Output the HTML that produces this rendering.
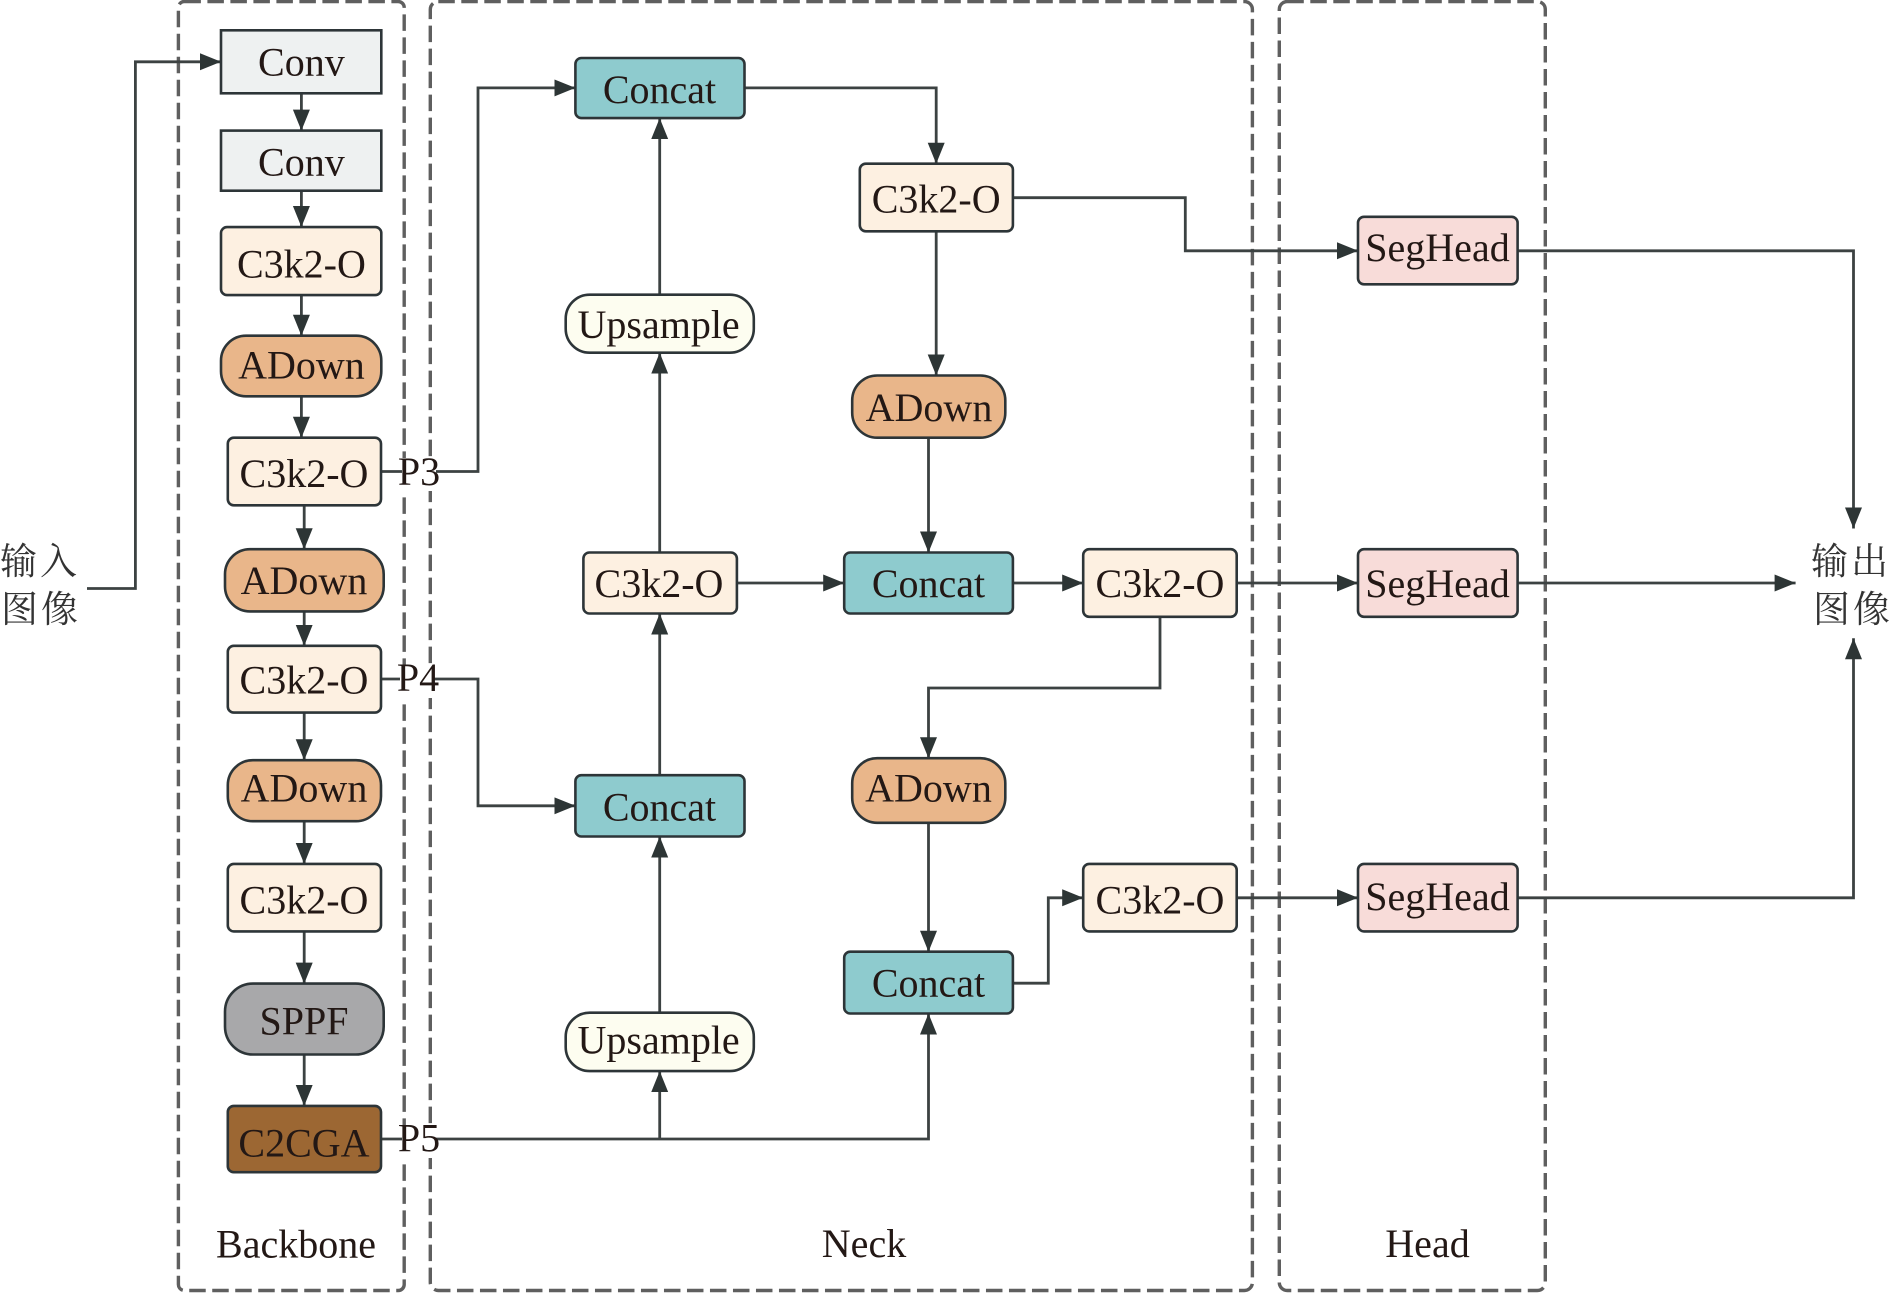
<!DOCTYPE html>
<html><head><meta charset="utf-8"><style>
html,body{margin:0;padding:0;background:#fff}
svg{display:block}
text{font-family:"Liberation Serif","Noto Serif CJK SC",serif;font-size:40px;fill:#231815;text-anchor:middle}
.g{fill:none;stroke:#5f5f5f;stroke-width:3.4;stroke-dasharray:16.5 6.5}
.l{fill:none;stroke:#3c4242;stroke-width:2.8;stroke-linejoin:miter}
.a{marker-end:url(#h)}
.n{stroke:#2d3538;stroke-width:2.6}
.cn{font-size:37px;fill:#333;text-anchor:start;letter-spacing:3px}
</style></head><body>
<svg width="1890" height="1295" viewBox="0 0 1890 1295" xmlns="http://www.w3.org/2000/svg">
<defs><marker id="h" markerUnits="userSpaceOnUse" markerWidth="22" markerHeight="18" refX="21" refY="9" orient="auto"><path d="M0 0.5L21 9L0 17.5Z" fill="#2d3535"/></marker></defs>
<rect width="1890" height="1295" fill="#fff"/>
<rect class="g" x="178.4" y="1.5" width="225.8" height="1289" rx="6"/>
<rect class="g" x="430.3" y="1.5" width="822.1" height="1289" rx="8"/>
<rect class="g" x="1279.3" y="1.5" width="266" height="1289" rx="8"/>

<path class="l a" d="M87 588.5H135.4V61.8H221"/>
<path class="l a" d="M301.4 93V130.6"/>
<path class="l a" d="M301.4 190V227"/>
<path class="l a" d="M301.4 295V335.7"/>
<path class="l a" d="M301.4 396V437.7"/>
<path class="l a" d="M304.2 505V549.2"/>
<path class="l a" d="M304.2 611V645.8"/>
<path class="l a" d="M304.2 712V760.2"/>
<path class="l a" d="M304.2 821V863.9"/>
<path class="l a" d="M304.2 931V983.6"/>
<path class="l a" d="M304.2 1054V1105.9"/>
<path class="l a" d="M381 471.5H478V87.9H575.4"/>
<path class="l a" d="M381 679H478V805.8H575.4"/>
<path class="l a" d="M381 1139H928.5V1013.5"/>
<path class="l a" d="M659.7 1139V1071.1"/>
<path class="l a" d="M659.7 1012.7V836.5"/>
<path class="l a" d="M659.7 775.2V613.5"/>
<path class="l a" d="M659.7 552.5V352.7"/>
<path class="l a" d="M659.7 294.7V118.1"/>
<path class="l a" d="M744.5 87.9H936.2V163.7"/>
<path class="l a" d="M1012.9 197.7H1185.3V250.8H1358"/>
<path class="l a" d="M936.2 231.3V375.5"/>
<path class="l a" d="M928.5 437.7V552.5"/>
<path class="l a" d="M736.9 583H844.2"/>
<path class="l a" d="M1012.9 583H1083.2"/>
<path class="l a" d="M1236.7 583H1358"/>
<path class="l a" d="M1517.6 583H1795.6"/>
<path class="l a" d="M1160 616.8V688H928.5V758.2"/>
<path class="l a" d="M928.5 822.8V951.7"/>
<path class="l a" d="M1012.9 983.2H1048.3V897.8H1083.2"/>
<path class="l a" d="M1236.7 897.8H1358"/>
<path class="l a" d="M1517.6 897.8H1853.5V638.3"/>
<path class="l a" d="M1517.6 250.8H1853.5V528.5"/>

<rect x="402" y="458" width="34" height="33" fill="#fff"/>
<rect x="400" y="665" width="34" height="33" fill="#fff"/>
<rect x="402" y="1125" width="34" height="33" fill="#fff"/>

<rect class="n" x="221" y="30.3" width="160.3" height="63" fill="#eef1f1"/>
<rect class="n" x="221" y="130.6" width="160.3" height="60.1" fill="#eef1f1"/>
<rect class="n" x="221" y="227.1" width="160.3" height="68" rx="6" fill="#fdf0e1"/>
<rect class="n" x="221" y="335.7" width="160.3" height="60.6" rx="25" fill="#e9b68a"/>
<rect class="n" x="227.8" y="437.7" width="153.2" height="67.6" rx="6" fill="#fdf0e1"/>
<rect class="n" x="225" y="549.2" width="158.7" height="62.2" rx="25" fill="#e9b68a"/>
<rect class="n" x="227.8" y="645.8" width="153.2" height="66.8" rx="6" fill="#fdf0e1"/>
<rect class="n" x="227.8" y="760.2" width="153.2" height="61" rx="25" fill="#e9b68a"/>
<rect class="n" x="227.8" y="863.9" width="153.2" height="67.5" rx="6" fill="#fdf0e1"/>
<rect class="n" x="225" y="983.6" width="158.7" height="70.9" rx="28" fill="#a8a8aa"/>
<rect class="n" x="227.8" y="1105.9" width="153.2" height="66.3" rx="6" fill="#9c6733"/>

<rect class="n" x="575.4" y="58" width="169.1" height="60.1" rx="6" fill="#8ecbce"/>
<rect class="n" x="565.7" y="294.7" width="188.1" height="58" rx="24" fill="#fdfdf0"/>
<rect class="n" x="583.4" y="552.5" width="153.5" height="61" rx="6" fill="#fdf0e1"/>
<rect class="n" x="575.4" y="775.2" width="169.1" height="61.3" rx="6" fill="#8ecbce"/>
<rect class="n" x="565.7" y="1012.7" width="188.1" height="58.4" rx="24" fill="#fdfdf0"/>

<rect class="n" x="859.8" y="163.7" width="153.1" height="67.6" rx="6" fill="#fdf0e1"/>
<rect class="n" x="852.2" y="375.5" width="153.1" height="62.2" rx="25" fill="#e9b68a"/>
<rect class="n" x="844.2" y="552.5" width="168.7" height="61" rx="6" fill="#8ecbce"/>
<rect class="n" x="1083.2" y="549.2" width="153.5" height="67.6" rx="6" fill="#fdf0e1"/>
<rect class="n" x="852.2" y="758.2" width="153.1" height="64.6" rx="25" fill="#e9b68a"/>
<rect class="n" x="844.2" y="951.7" width="168.7" height="61.8" rx="6" fill="#8ecbce"/>
<rect class="n" x="1083.2" y="863.9" width="153.5" height="67.5" rx="6" fill="#fdf0e1"/>

<rect class="n" x="1358" y="216.8" width="159.6" height="67.5" rx="6" fill="#f8dcd9"/>
<rect class="n" x="1358" y="549.2" width="159.6" height="67.6" rx="6" fill="#f8dcd9"/>
<rect class="n" x="1358" y="863.9" width="159.6" height="67.5" rx="6" fill="#f8dcd9"/>

<text x="301.4" y="75.4">Conv</text>
<text x="301.4" y="175.7">Conv</text>
<text x="301.4" y="277.7">C3k2-O</text>
<text x="301.4" y="378.4">ADown</text>
<text x="304" y="487">C3k2-O</text>
<text x="304" y="594">ADown</text>
<text x="304" y="693.5">C3k2-O</text>
<text x="304" y="801.7">ADown</text>
<text x="304" y="913.4">C3k2-O</text>
<text x="304" y="1034.6">SPPF</text>
<text x="304" y="1156.5">C2CGA</text>
<text x="296" y="1257.6">Backbone</text>
<text x="419" y="485">P3</text>
<text x="418" y="691">P4</text>
<text x="419" y="1151.5">P5</text>

<text x="659.5" y="103">Concat</text>
<text x="658.6" y="337.8">Upsample</text>
<text x="659" y="596.9">C3k2-O</text>
<text x="659.5" y="820.7">Concat</text>
<text x="658.6" y="1053.3">Upsample</text>

<text x="936.2" y="212.5">C3k2-O</text>
<text x="929" y="421">ADown</text>
<text x="928.5" y="597">Concat</text>
<text x="1160" y="596.9">C3k2-O</text>
<text x="928.5" y="801.7">ADown</text>
<text x="928.5" y="996.5">Concat</text>
<text x="1160" y="913.4">C3k2-O</text>

<text x="1437.5" y="261">SegHead</text>
<text x="1437.5" y="597">SegHead</text>
<text x="1437.5" y="910">SegHead</text>

<text x="864" y="1257.2">Neck</text>
<text x="1427.5" y="1257.2">Head</text>

<text class="cn" x="0" y="574">输入</text>
<text class="cn" x="1" y="622">图像</text>
<text class="cn" x="1811" y="574">输出</text>
<text class="cn" x="1813" y="622">图像</text>
</svg>
</body></html>
